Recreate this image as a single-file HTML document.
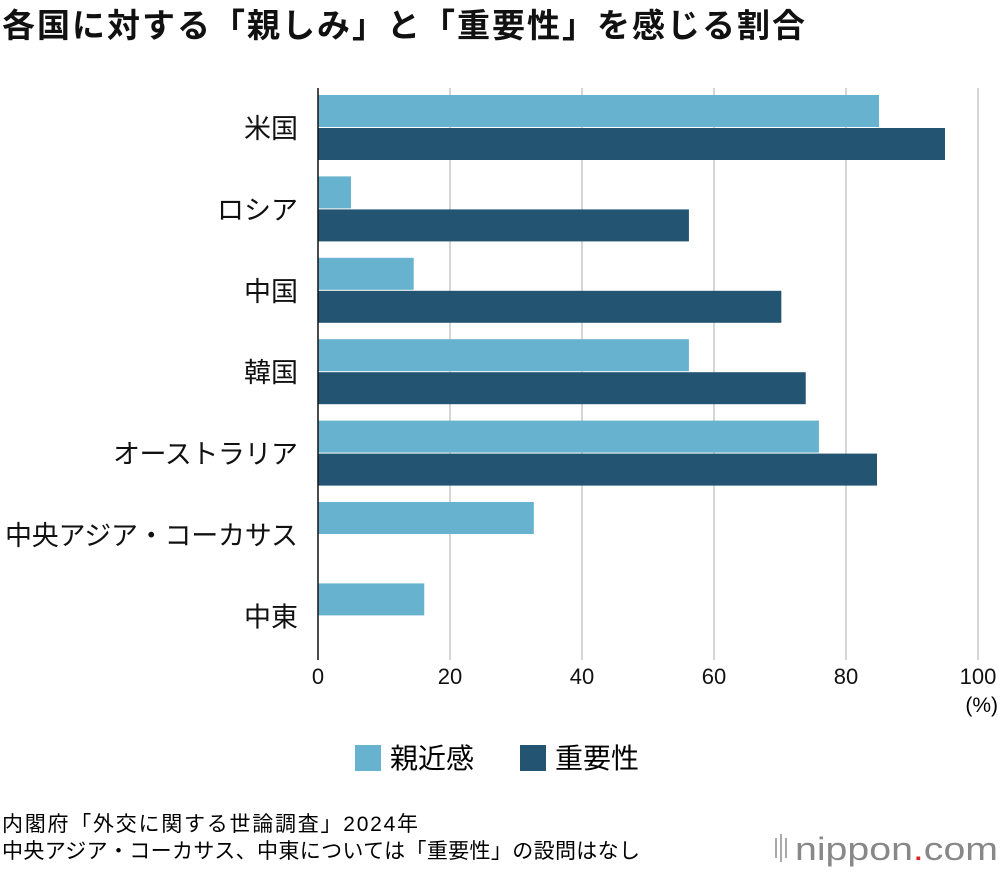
<!DOCTYPE html>
<html><head><meta charset="utf-8"><style>
body{margin:0;background:#fff;width:1000px;height:870px;overflow:hidden;font-family:"Liberation Sans","Noto Sans CJK JP",sans-serif;color:#111}
</style></head><body>
<svg width="1000" height="870" xmlns="http://www.w3.org/2000/svg" style="font-family:'Liberation Sans','Noto Sans CJK JP',sans-serif">
<text x="2" y="37" font-size="33" font-weight="bold" fill="#111" textLength="803" lengthAdjust="spacing">各国に対する「親しみ」と「重要性」を感じる割合</text>
<g id="grid"></g>
<g id="bars"></g>
<g id="labels"></g>
<line x1="318" y1="88" x2="318" y2="660" stroke="#111" stroke-width="1.5"/>
<text x="998" y="712" font-size="21" text-anchor="end">(%)</text>
<g>
<rect x="355" y="745" width="26" height="26" fill="#67b3cf"/>
<text x="390" y="768" font-size="28">親近感</text>
<rect x="520" y="745" width="26" height="26" fill="#235573"/>
<text x="555" y="768" font-size="28">重要性</text>
</g>
<text x="2" y="831" font-size="21" textLength="416" lengthAdjust="spacing">内閣府「外交に関する世論調査」2024年</text>
<text x="2" y="858" font-size="21" textLength="638" lengthAdjust="spacing">中央アジア・コーカサス、中東については「重要性」の設問はなし</text>
<g>
<rect x="775" y="838" width="2" height="20" fill="#aaa"/><rect x="780" y="834" width="2" height="28" fill="#aaa"/><rect x="785" y="838" width="2" height="20" fill="#aaa"/>
<text x="795" y="860" font-size="32" fill="#888" textLength="203" lengthAdjust="spacingAndGlyphs">nippon<tspan fill="#d22">.</tspan>com</text>
</g>
</svg>
<script>
const categories=["米国","ロシア","中国","韓国","オーストラリア","中央アジア・コーカサス","中東"];
const closeness=[85,5,14.5,56.2,75.9,32.7,16.1];
const importance=[95,56.2,70.2,73.9,84.7,null,null];
const ticks=[0,20,40,60,80,100];
const NS="http://www.w3.org/2000/svg";
const x=v=>318+v*6.6;
const yTop=i=>95+i*81.4;
const grid=document.getElementById('grid'),bars=document.getElementById('bars'),labels=document.getElementById('labels');
function mk(tag,attrs,parent){const e=document.createElementNS(NS,tag);for(const k in attrs)e.setAttribute(k,attrs[k]);parent.appendChild(e);return e;}
ticks.forEach(t=>{
 if(t>0){const l=mk('line',{x1:x(t),x2:x(t),y1:88,y2:660,stroke:'#c8c8c8','stroke-width':1.5},grid);
 
 }
 const tx=mk('text',{x:x(t),y:684,'font-size':22,'text-anchor':'middle',fill:'#111'},labels);
 tx.textContent=t;
 
 
});
categories.forEach((c,i)=>{
 const y=yTop(i);
 const r1=mk('rect',{x:318,y:y,width:x(closeness[i])-318,height:32,fill:'#67b3cf'},bars);
 
 
 if(importance[i]!=null){
  const r2=mk('rect',{x:318,y:y+33,width:x(importance[i])-318,height:32,fill:'#235573'},bars);
  
  
 }
 const t=mk('text',{x:298,y:y+43,'font-size':27,'text-anchor':'end',fill:'#111'},labels);
 if(c.length>=7){t.setAttribute('textLength',c.length>8?293:185);t.setAttribute('lengthAdjust','spacing');}
 t.textContent=c;
 
 
});
</script>
</body></html>
